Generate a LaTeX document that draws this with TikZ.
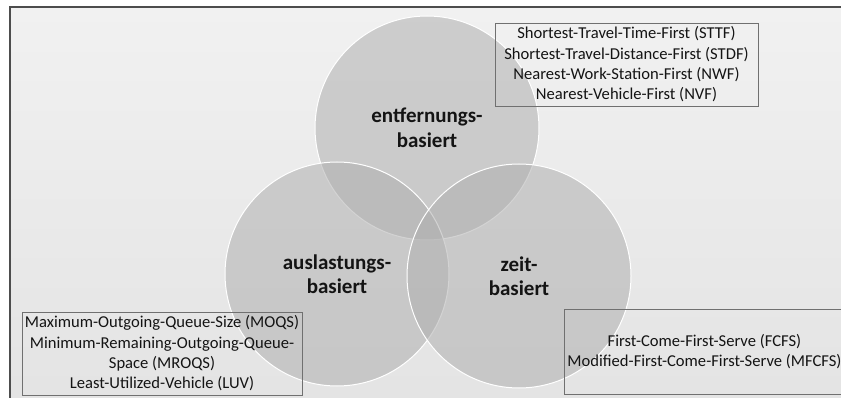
\documentclass[tikz,border=0pt]{standalone}
\usepackage{fontspec}
\setmainfont{Carlito}
\usepackage{tikz}
\usetikzlibrary{positioning}
\definecolor{Frame}{HTML}{4D4D4D}
\definecolor{BgTop}{HTML}{F1F1F1}
\definecolor{BgBottom}{HTML}{E3E3E3}
\definecolor{Disc}{HTML}{B0B0B0}
\definecolor{BoxLine}{HTML}{707070}
\definecolor{Ink}{HTML}{141414}

\begin{document}
\begin{tikzpicture}[
  x=1pt,y=-1pt,
  every node/.style={text=Ink},
  disc/.style={circle,draw=white,line width=1pt,fill=Disc,fill opacity=0.55,text opacity=1,
    minimum size=224pt,inner sep=0pt,align=center,font=\fontsize{21}{24.5}\selectfont\bfseries},
  listbox/.style={draw=BoxLine,line width=0.8pt,align=center,inner sep=0pt,
    font=\fontsize{16.6}{20.3}\selectfont}
]
\useasboundingbox (0,0) rectangle (841,398);
\clip (0,0) rectangle (841,398);
% frame and background
\shade[top color=BgTop,bottom color=BgBottom] (10,7) rectangle (860,420);
\draw[Frame,line width=1.2pt] (10,420) -- (10,7) -- (860,7);
% three categories
\node[disc] (dist) at (427,128) {entfernungs-\\basiert};
\node[disc] (load) at (337,274) {auslastungs-\\basiert};
\node[disc] (time) at (519,276) {zeit-\\basiert};
% rules per category
\node[listbox,minimum width=263pt,minimum height=83pt] (distrules) at (626.5,64.5)
  {Shortest-Travel-Time-First (STTF)\\Shortest-Travel-Distance-First (STDF)\\Nearest-Work-Station-First (NWF)\\Nearest-Vehicle-First (NVF)};
\node[listbox,minimum width=280pt,minimum height=83pt] (loadrules) at (162,353.5)
  {Maximum-Outgoing-Queue-Size (MOQS)\\Minimum-Remaining-Outgoing-Queue-\\Space (MROQS)\\Least-Utilized-Vehicle (LUV)};
\node[listbox,minimum width=281pt,minimum height=85pt] (timerules) at (704.5,351.5)
  {First-Come-First-Serve (FCFS)\\Modified-First-Come-First-Serve (MFCFS)};
\end{tikzpicture}
\end{document}
